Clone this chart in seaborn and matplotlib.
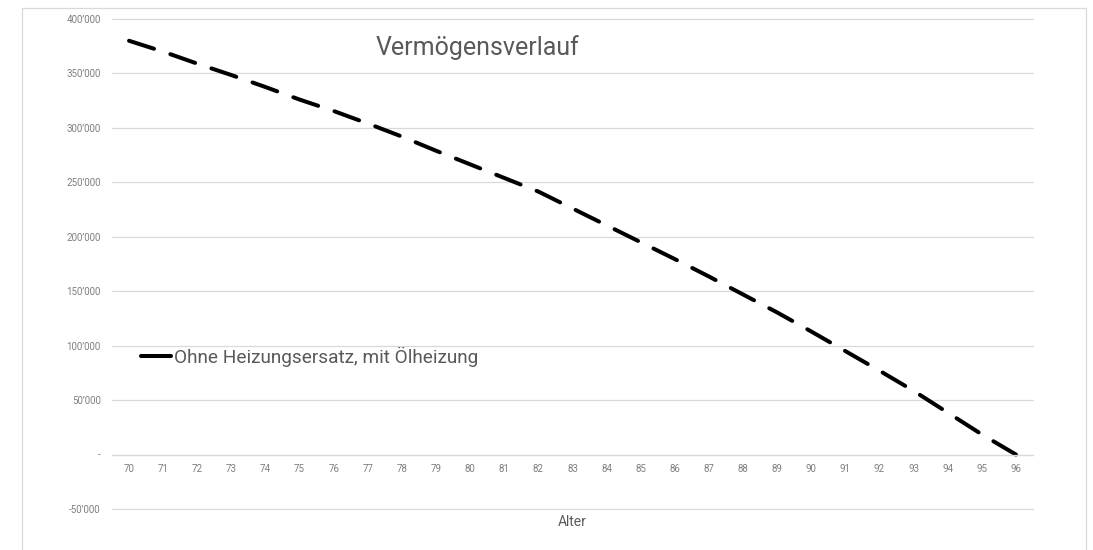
import numpy as np
import pandas as pd
import matplotlib
matplotlib.use("Agg")
import matplotlib.pyplot as plt
import seaborn as sns
from matplotlib.lines import Line2D
from matplotlib.patches import Rectangle
from matplotlib.ticker import FuncFormatter

# ---- data ----
ages = [70, 71, 72, 73, 74, 75, 76, 77, 78, 79, 80, 81, 82, 83, 84, 85, 86,
        87, 88, 89, 90, 91, 92, 93, 94, 95, 96]
vermoegen = [380000, 370000, 359000, 348500, 337500, 326000, 315500, 304000,
             292000, 279000, 266500, 254000, 241500, 226000, 210500, 195000,
             179500, 163500, 147000, 130500, 113000, 95000, 77000, 58500,
             38500, 18500, 0]
series_name = "Ohne Heizungsersatz, mit Ölheizung"
title = "Vermögensverlauf"
x_label = "Alter"
y_ticks = [-50000, 0, 50000, 100000, 150000, 200000, 250000, 300000, 350000, 400000]

df = pd.DataFrame({"Alter": ages, "Vermoegen": vermoegen})

sns.set_theme(style="white")
plt.rcParams["font.family"] = ["Roboto", "DejaVu Sans"]

W, H = 1093, 550
fig = plt.figure(figsize=(W / 100, H / 100), dpi=100)
ax = fig.add_axes([112 / W, 1 - 509 / H, (1033 - 112) / W, (509 - 19) / H])

LW = 2.9
sns.lineplot(data=df, x="Alter", y="Vermoegen", ax=ax, color="black",
             linewidth=LW, legend=False)

ax.set_xlim(69.5, 96.5)
ax.set_ylim(-50000, 400000)
ax.set_xticks(ages)
ax.set_yticks(y_ticks)

def yfmt(v, pos):
    if v == 0:
        return "-"
    s = f"{int(abs(v)):,}".replace(",", "\u2019")
    return ("-" if v < 0 else "") + s

ax.yaxis.set_major_formatter(FuncFormatter(yfmt))
ax.grid(axis="y", color="#d9d9d9", linewidth=0.9)
ax.grid(axis="x", visible=False)
ax.set_axisbelow(True)
for s in ["top", "right", "left"]:
    ax.spines[s].set_visible(False)
ax.spines["bottom"].set_position(("data", 0))
ax.spines["bottom"].set_color("#d9d9d9")
ax.spines["bottom"].set_linewidth(0.9)

ax.tick_params(axis="x", length=0, pad=7, labelsize=7, labelcolor="#7f7f7f")
ax.tick_params(axis="y", length=0, pad=8, labelsize=7, labelcolor="#7f7f7f")
for gl in ax.yaxis.get_gridlines():
    gl.set_clip_on(False)

ax.set_xlabel("")
ax.set_ylabel("")
fig.text(572.5 / W, 1 - 522 / H, x_label, ha="center", va="center",
         fontsize=10, color="#595959")
fig.text(477.5 / W, 1 - 48 / H, title, ha="center", va="center",
         fontsize=18, color="#595959")

# dash pattern: fit so the line starts and ends with a dash
fig.canvas.draw()
ln = ax.lines[0]
pts = ax.transData.transform(np.column_stack([ages, vermoegen]))
L = np.sum(np.hypot(np.diff(pts[:, 0]), np.diff(pts[:, 1])))
lw_px = LW * 100 / 72
on = 6.5
period = 10.6 * lw_px
n = max(1, round((L - on * lw_px) / period))
off = ((L - on * lw_px) / n) / lw_px - on
ln.set_linestyle((0, (on, off)))
ln.set_dash_capstyle("round")

handle = Line2D([0], [0], color="black", linewidth=LW, solid_capstyle="round")
leg = fig.legend([handle], [series_name], loc="center left",
                 bbox_to_anchor=(141 / W, 1 - 357 / H), frameon=False,
                 fontsize=13.7, handlelength=1.6, handletextpad=0.15,
                 borderpad=0, borderaxespad=0, labelcolor="#595959")

fig.patches.append(Rectangle((22 / W, -0.05), (1086 - 22) / W, 1.05 - 8 / H,
                             transform=fig.transFigure, fill=False,
                             edgecolor="#d9d9d9", linewidth=0.9))

fig.savefig("out.png", dpi=100, facecolor="white")
